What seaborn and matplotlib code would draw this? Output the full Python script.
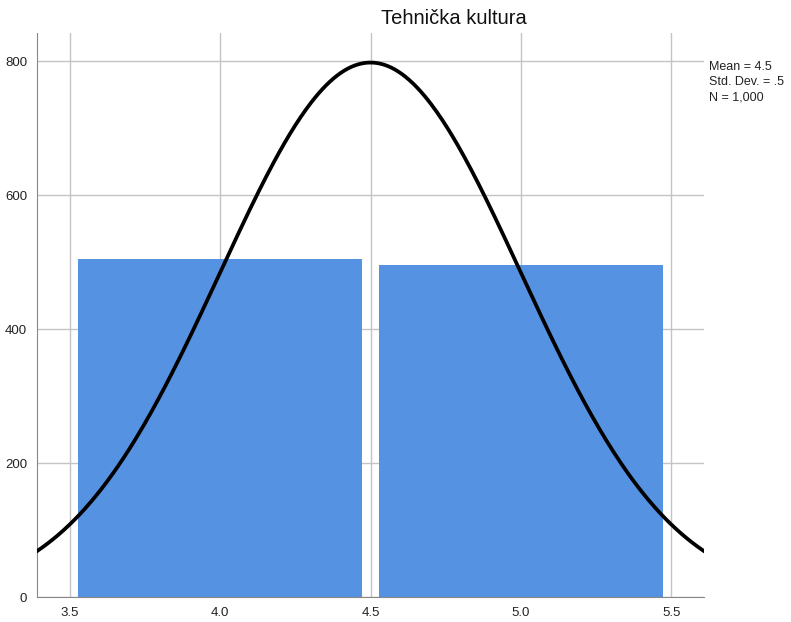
import numpy as np
import pandas as pd
import matplotlib
matplotlib.use("Agg")
import matplotlib.pyplot as plt
import seaborn as sns

# Data
bin_centers = [4.0, 5.0]
counts = [504, 496]
bin_edges = [3.5, 4.5, 5.5]
mean_val = 4.5
std_val = 0.5
n_val = 1000
x_ticks = [3.5, 4.0, 4.5, 5.0, 5.5]
y_ticks = [0, 200, 400, 600, 800]
title = "Tehnička kultura"
stats_text = "Mean = 4.5\nStd. Dev. = .5\nN = 1,000"

sns.set_style("white")
plt.rcParams['font.family'] = ['Liberation Sans', 'DejaVu Sans']

fig = plt.figure(figsize=(7.91, 6.22), dpi=100)
ax = fig.add_axes([37/791, 1-597/622, (704-37)/791, (597-33)/622])

df = pd.DataFrame({"value": bin_centers, "count": counts})
sns.histplot(data=df, x="value", weights="count", bins=bin_edges, shrink=0.945,
             color="#5592e2", alpha=1, edgecolor="none", linewidth=0, ax=ax, zorder=2)

xs = np.linspace(3.3, 5.7, 400)
bw = bin_edges[1] - bin_edges[0]
ys = n_val * bw / (std_val * np.sqrt(2*np.pi)) * np.exp(-0.5*((xs-mean_val)/std_val)**2)
sns.lineplot(x=xs, y=ys, color="black", linewidth=2.7, ax=ax, zorder=3)

ax.set_xlim(3.392, 5.608)
ax.set_ylim(0, 842)
ax.set_xticks(x_ticks)
ax.set_xticklabels([f"{t:.1f}" for t in x_ticks])
ax.set_yticks(y_ticks)
ax.set_yticklabels([str(t) for t in y_ticks])
ax.grid(True, color="#c4c4c4", linewidth=1.0, zorder=0)
ax.set_axisbelow(True)
ax.tick_params(axis="both", length=0, labelsize=9.5, colors="#222222", pad=7)
ax.set_xlabel("")
ax.set_ylabel("")
for s in ["top", "right"]:
    ax.spines[s].set_visible(False)
ax.spines["left"].set_color("#888888")
ax.spines["bottom"].set_color("#888888")

fig.text(454/791, 1-18/622, title, ha="center", va="center", fontsize=14.5, color="#111111")
fig.text(709/791, 1-61/622, stats_text, ha="left", va="top", fontsize=9,
         color="#222222", linespacing=1.35)

fig.savefig("out.png", dpi=100)
